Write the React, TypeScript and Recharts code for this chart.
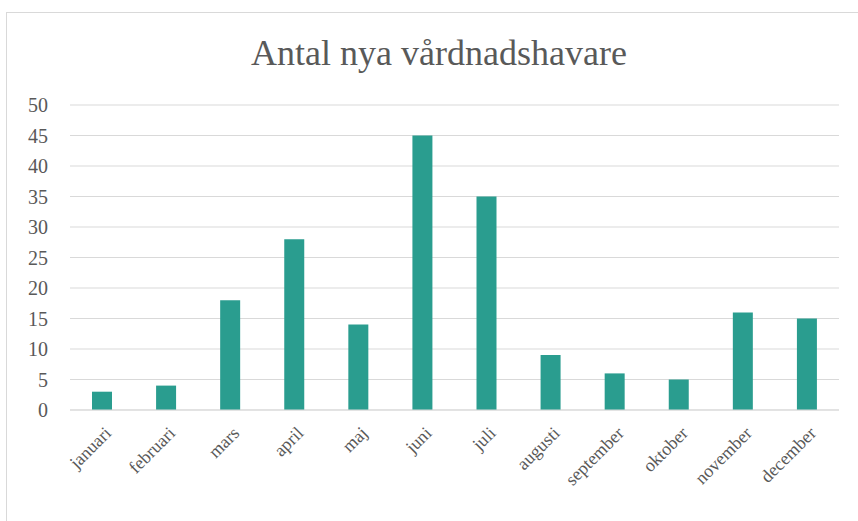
import React from 'react';
import { BarChart, Bar, XAxis, YAxis, CartesianGrid } from 'recharts';

const months = ['januari', 'februari', 'mars', 'april', 'maj', 'juni', 'juli', 'augusti', 'september', 'oktober', 'november', 'december'];
const counts = [3, 4, 18, 28, 14, 45, 35, 9, 6, 5, 16, 15];
const yTicks = [0, 5, 10, 15, 20, 25, 30, 35, 40, 45, 50];

const data = months.map((m, i) => ({ month: m, value: counts[i] }));

const FONT = '"Liberation Serif", "Times New Roman", serif';

const MonthTick = (props: any) => {
  const { x, y, payload } = props;
  return (
    <g transform={`translate(${x + 6},${y + 12})`}>
      <text transform="rotate(-45)" textAnchor="end" dominantBaseline="central" fill="#595959" fontSize={18} fontFamily={FONT}>
        {payload.value}
      </text>
    </g>
  );
};

const App: React.FC = () => {
  return (
    <div style={{ position: 'absolute', left: 0, top: 0, width: 858, height: 521, background: '#fff', overflow: 'hidden' }}>
      {/* chart frame */}
      <div style={{ position: 'absolute', left: 6, top: 12, width: 870, height: 530, border: '1px solid #d9d9d9' }} />
      <div
        style={{
          position: 'absolute', left: 0, width: 878, top: 32, textAlign: 'center',
          fontFamily: FONT, fontSize: 36, color: '#595959',
        }}
      >
        Antal nya vårdnadshavare
      </div>
      <div style={{ position: 'absolute', left: 0, top: 0 }}>
        <BarChart width={858} height={521} data={data} margin={{ top: 105, right: 19, bottom: 0, left: 0 }} barSize={20}>
          <CartesianGrid vertical={false} stroke="#d9d9d9" />
          <XAxis
            dataKey="month"
            axisLine={{ stroke: '#d9d9d9' }}
            tickLine={false}
            interval={0}
            height={111}
            tick={<MonthTick />}
          />
          <YAxis
            width={70}
            domain={[0, 50]}
            ticks={yTicks}
            axisLine={false}
            tickLine={false}
            tickSize={0}
            tickMargin={22}
            tick={{ fill: '#595959', fontSize: 20, fontFamily: FONT }}
          />
          <Bar dataKey="value" fill="#2a9d8f" isAnimationActive={false} />
        </BarChart>
      </div>
    </div>
  );
};

export default App;
